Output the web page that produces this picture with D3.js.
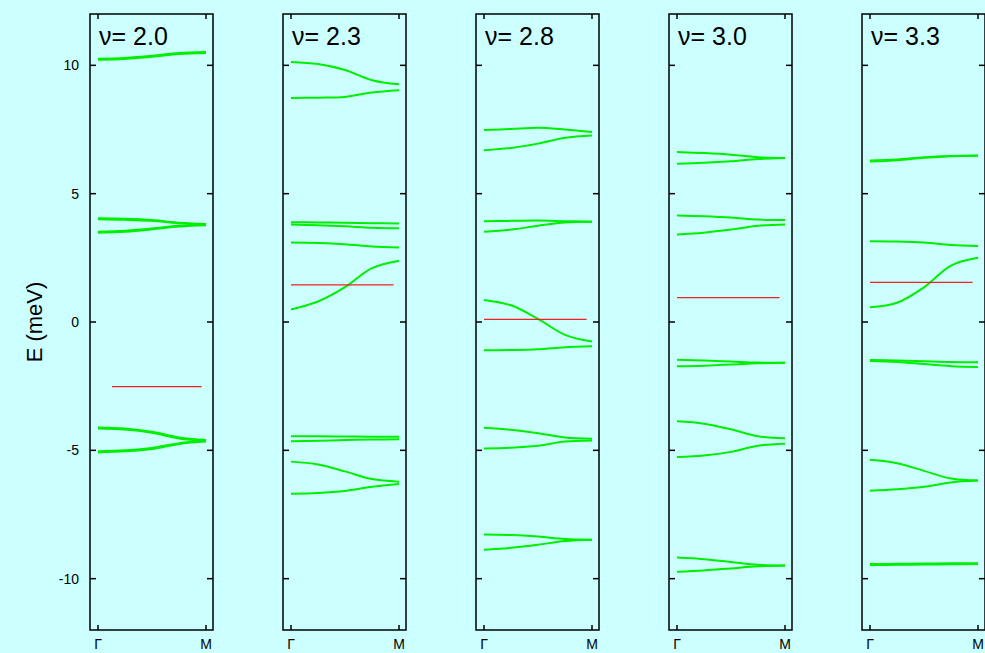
<!DOCTYPE html>
<html>
<head>
<meta charset="utf-8">
<script src="https://cdn.jsdelivr.net/npm/d3@7"></script>
<style>
  body { margin: 0; background: #ccffff; }
  svg { display: block; font-family: "Liberation Sans", Arial, sans-serif; }
  .frame { fill: none; stroke: #000; stroke-width: 1.5; }
  .tick-mark { stroke: #000; stroke-width: 1.5; }
  .band { fill: none; stroke: #00ee00; stroke-width: 2; }
  .fermi { stroke: #ee2222; stroke-width: 1.2; }
</style>
</head>
<body>
<div id="chart"></div>
<script>

// k-path sample points between Gamma (0) and M (1)
var kPoints = [0, 0.25, 0.5, 0.75, 1];
var kLabels = ["\u0393", "M"];
var yTicks = [10, 5, 0, -5, -10];

var fillings = ["2.0", "2.3", "2.8", "3.0", "3.3"];

// band energies (meV) at kPoints, one list of bands per filling
var bands20 = [
    [10.22, 10.25, 10.33, 10.44, 10.48],
    [10.26, 10.29, 10.37, 10.48, 10.52],
    [4.04, 4.02, 3.97, 3.87, 3.82],
    [4.00, 3.98, 3.94, 3.85, 3.80],
    [3.48, 3.52, 3.61, 3.72, 3.77],
    [3.52, 3.56, 3.64, 3.75, 3.79],
    [-4.11, -4.15, -4.28, -4.50, -4.60],
    [-4.15, -4.19, -4.32, -4.54, -4.63],
    [-5.08, -5.04, -4.95, -4.75, -4.66],
    [-5.04, -5.00, -4.91, -4.72, -4.63]
];
var bands23 = [
    [10.13, 10.05, 9.82, 9.42, 9.26],
    [8.73, 8.74, 8.77, 8.94, 9.03],
    [3.89, 3.88, 3.87, 3.85, 3.84],
    [3.80, 3.77, 3.73, 3.67, 3.65],
    [3.10, 3.08, 3.03, 2.94, 2.90],
    [0.49, 0.80, 1.36, 2.10, 2.39],
    [-4.45, -4.45, -4.46, -4.47, -4.47],
    [-4.65, -4.63, -4.60, -4.58, -4.57],
    [-5.44, -5.55, -5.82, -6.12, -6.22],
    [-6.69, -6.66, -6.58, -6.42, -6.31]
];
var bands28 = [
    [7.48, 7.52, 7.57, 7.50, 7.40],
    [6.69, 6.78, 6.95, 7.18, 7.27],
    [3.93, 3.94, 3.95, 3.93, 3.91],
    [3.52, 3.60, 3.75, 3.88, 3.91],
    [0.86, 0.65, 0.12, -0.50, -0.76],
    [-1.10, -1.09, -1.06, -0.98, -0.94],
    [-4.12, -4.20, -4.33, -4.50, -4.55],
    [-4.93, -4.90, -4.82, -4.66, -4.62],
    [-8.28, -8.30, -8.36, -8.45, -8.48],
    [-8.87, -8.80, -8.68, -8.53, -8.48]
];
var bands30 = [
    [6.62, 6.58, 6.52, 6.42, 6.39],
    [6.17, 6.20, 6.26, 6.35, 6.39],
    [4.15, 4.12, 4.07, 3.99, 3.97],
    [3.41, 3.48, 3.60, 3.75, 3.80],
    [-1.47, -1.50, -1.54, -1.58, -1.59],
    [-1.72, -1.70, -1.66, -1.61, -1.59],
    [-3.87, -3.96, -4.18, -4.45, -4.53],
    [-5.26, -5.20, -5.06, -4.82, -4.74],
    [-9.18, -9.24, -9.35, -9.46, -9.49],
    [-9.73, -9.68, -9.60, -9.52, -9.49]
];
var bands33 = [
    [6.25, 6.30, 6.40, 6.46, 6.48],
    [6.29, 6.33, 6.42, 6.47, 6.49],
    [3.15, 3.14, 3.10, 3.00, 2.96],
    [0.57, 0.75, 1.35, 2.20, 2.50],
    [-1.48, -1.50, -1.53, -1.56, -1.57],
    [-1.52, -1.56, -1.64, -1.72, -1.75],
    [-5.37, -5.50, -5.80, -6.10, -6.18],
    [-6.57, -6.52, -6.42, -6.25, -6.18],
    [-9.43, -9.42, -9.41, -9.40, -9.40],
    [-9.47, -9.46, -9.45, -9.44, -9.43]
];

// chemical potential line: energy and k range
var fermiLevel = [-2.52, 1.45, 0.10, 0.95, 1.54];
var fermiStart = [0.13, 0.0, 0.0, 0.0, 0.0];
var fermiEnd = [0.96, 0.95, 0.95, 0.95, 0.95];

var allBands = [bands20, bands23, bands28, bands30, bands33];

var width = 985, height = 653;
var panelLeft = 90, panelStep = 193, panelW = 123;
var plotTop = 14, plotBottom = 630;

var svg = d3.select("#chart").append("svg")
    .attr("width", width)
    .attr("height", height);

svg.append("rect")
    .attr("width", width)
    .attr("height", height)
    .attr("fill", "#ccffff");

var yScale = d3.scaleLinear()
    .domain([-12, 12])
    .range([plotBottom, plotTop]);

// y label
svg.append("text")
    .attr("transform", "translate(42," + yScale(0) + ") rotate(-90)")
    .attr("text-anchor", "middle")
    .attr("font-size", 22)
    .text("E (meV)");

// y tick labels on first panel
svg.selectAll(".ylab")
    .data(yTicks)
    .enter().append("text")
    .attr("class", "ylab")
    .attr("x", panelLeft - 11)
    .attr("y", function(d) { return yScale(d) + 5; })
    .attr("text-anchor", "end")
    .attr("font-size", 14)
    .text(function(d) { return d; });

fillings.forEach(function(nu, i) {
    var x0 = panelLeft + i * panelStep;

    var xScale = d3.scaleLinear()
        .domain([0, 1])
        .range([x0 + 8, x0 + 116]);

    var g = svg.append("g");

    var line = d3.line()
        .x(function(d, j) { return xScale(kPoints[j]); })
        .y(function(d) { return yScale(d); })
        .curve(d3.curveCatmullRom.alpha(0.5));

    g.selectAll(".band")
        .data(allBands[i])
        .enter().append("path")
        .attr("class", "band")
        .attr("d", line);

    g.append("line")
        .attr("class", "fermi")
        .attr("x1", xScale(fermiStart[i]))
        .attr("x2", xScale(fermiEnd[i]))
        .attr("y1", yScale(fermiLevel[i]))
        .attr("y2", yScale(fermiLevel[i]));

    // frame
    g.append("rect")
        .attr("class", "frame")
        .attr("x", x0)
        .attr("y", plotTop)
        .attr("width", panelW)
        .attr("height", plotBottom - plotTop);

    // y ticks both sides
    yTicks.forEach(function(t) {
        g.append("line").attr("class", "tick-mark")
            .attr("x1", x0).attr("x2", x0 + 6)
            .attr("y1", yScale(t)).attr("y2", yScale(t));
        g.append("line").attr("class", "tick-mark")
            .attr("x1", x0 + panelW - 6).attr("x2", x0 + panelW)
            .attr("y1", yScale(t)).attr("y2", yScale(t));
    });

    // x ticks top and bottom
    [0, 1].forEach(function(k, j) {
        g.append("line").attr("class", "tick-mark")
            .attr("x1", xScale(k)).attr("x2", xScale(k))
            .attr("y1", plotTop).attr("y2", plotTop + 5);
        g.append("line").attr("class", "tick-mark")
            .attr("x1", xScale(k)).attr("x2", xScale(k))
            .attr("y1", plotBottom - 5).attr("y2", plotBottom);
        g.append("text")
            .attr("x", xScale(k))
            .attr("y", plotBottom + 19)
            .attr("text-anchor", "middle")
            .attr("font-size", 14)
            .text(kLabels[j]);
    });

    g.append("text")
        .attr("x", x0 + 9)
        .attr("y", plotTop + 31)
        .attr("font-size", 25)
        .text("\u03bd= " + nu);
});

</script>
</body>
</html>
